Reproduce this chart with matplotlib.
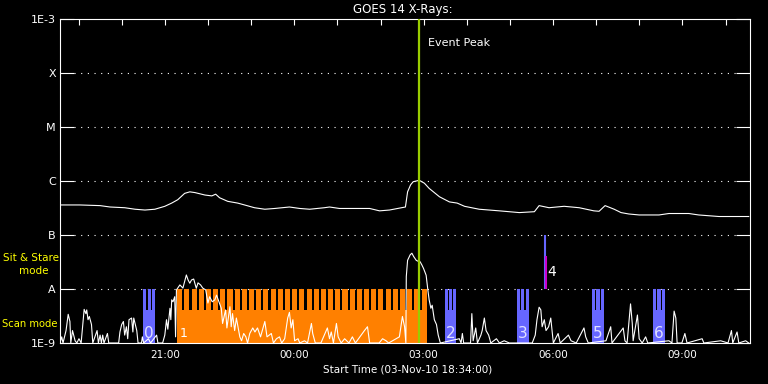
import matplotlib
matplotlib.use("Agg")
import matplotlib.pyplot as plt
import matplotlib.transforms as mtransforms
from matplotlib.ticker import NullLocator
import numpy as np

# time axis: hours after the start time, 03-Nov-10 18:34:00
START_CLOCK = "18:34"
T_SPAN = 16.0

# GOES 14 long channel (1-8 A), W/m^2 (values in units of 1e-7)
long_t = [0.00, 0.46, 0.93, 1.16, 1.50, 1.74, 1.97, 2.20, 2.43, 2.59,
          2.73, 2.89, 3.01, 3.13, 3.36, 3.52, 3.61, 3.70, 3.89, 4.12,
          4.28, 4.51, 4.75, 4.98, 5.32, 5.56, 5.79, 6.13, 6.25, 6.48,
          6.94, 7.18, 7.41, 7.64, 7.92, 8.01, 8.06, 8.13, 8.19, 8.33,
          8.45, 8.56, 8.80, 9.03, 9.21, 9.38, 9.72, 10.19, 10.65, 11.00,
          11.11, 11.34, 11.69, 12.04, 12.38, 12.50, 12.64, 12.85, 13.01, 13.19,
          13.43, 13.89, 14.12, 14.58, 14.81, 15.28, 15.97]
long_flux_e7 = [3.6, 3.6, 3.5, 3.3, 3.2, 3.0, 2.9, 3.0, 3.4, 3.9,
                4.5, 5.9, 6.3, 6.1, 5.5, 5.3, 5.7, 4.9, 4.2, 3.9,
                3.6, 3.2, 3.0, 3.1, 3.3, 3.1, 3.0, 3.2, 3.3, 3.1,
                3.1, 3.1, 2.8, 2.9, 3.2, 3.3, 6.3, 8.5, 9.7, 10.3,
                9.1, 7.3, 5.1, 4.1, 3.9, 3.4, 3.0, 2.8, 2.6, 2.7,
                3.5, 3.2, 3.4, 3.2, 2.8, 2.75, 3.5, 3.0, 2.6, 2.45,
                2.35, 2.35, 2.5, 2.5, 2.35, 2.2, 2.2]

# short channel (0.5-4 A), values in units of 1e-9 W/m^2
short_t = [0.00, 0.04, 0.07, 0.14, 0.19, 0.23, 0.25, 0.29, 0.35, 0.39,
           0.44, 0.49, 0.56, 0.60, 0.62, 0.65, 0.68, 0.73, 0.76, 0.86,
           0.89, 0.93, 0.96, 0.99, 1.02, 1.10, 1.13, 1.36, 1.39, 1.43,
           1.47, 1.50, 1.54, 1.57, 1.60, 1.66, 1.69, 1.71, 1.78, 1.81,
           1.89, 1.91, 1.94, 2.05, 2.10, 2.24, 2.27, 2.38, 2.43, 2.47,
           2.50, 2.55, 2.57, 2.59, 2.62, 2.66, 2.68, 2.70, 2.78, 2.85,
           2.93, 2.97, 3.01, 3.05, 3.10, 3.16, 3.20, 3.26, 3.31, 3.38,
           3.43, 3.47, 3.53, 3.59, 3.63, 3.70, 3.74, 3.77, 3.84, 3.87,
           3.94, 3.97, 4.00, 4.05, 4.09, 4.17, 4.21, 4.26, 4.31, 4.35,
           4.40, 4.47, 4.52, 4.58, 4.65, 4.75, 4.80, 4.90, 4.95, 5.02,
           5.09, 5.14, 5.21, 5.28, 5.32, 5.36, 5.40, 5.44, 5.52, 5.56,
           5.67, 5.74, 5.83, 5.86, 5.92, 6.05, 6.20, 6.25, 6.29, 6.34,
           6.41, 6.45, 6.52, 6.60, 6.70, 6.78, 6.85, 7.06, 7.13, 7.18,
           7.40, 7.48, 7.56, 7.62, 7.87, 7.94, 7.99, 8.02, 8.03, 8.06,
           8.12, 8.16, 8.20, 8.26, 8.29, 8.35, 8.39, 8.43, 8.49, 8.53,
           8.56, 8.60, 8.63, 8.68, 8.73, 8.77, 8.82, 9.26, 9.30, 9.33,
           9.36, 9.52, 9.55, 9.58, 9.64, 9.68, 9.76, 9.79, 9.84, 9.88,
           9.94, 9.99, 10.12, 10.19, 10.30, 10.42, 10.95, 11.02, 11.06, 11.11,
           11.15, 11.18, 11.23, 11.27, 11.33, 11.38, 11.44, 11.55, 11.60, 11.79,
           11.85, 11.97, 12.15, 12.19, 12.25, 12.66, 12.77, 12.80, 13.06, 13.10,
           13.15, 13.23, 13.27, 13.29, 13.39, 13.43, 13.50, 13.58, 13.63, 14.12,
           14.19, 14.24, 14.28, 14.31, 14.42, 14.49, 14.54, 14.89, 14.93, 15.32,
           15.49, 15.57, 15.60, 15.70, 15.74, 15.90, 15.97]
short_flux_e9 = [1.0, 1.3, 1.0, 1.7, 3.4, 2.5, 1.0, 1.7, 1.1, 1.0,
                 1.2, 1.0, 4.2, 3.5, 4.1, 2.7, 3.1, 2.2, 1.0, 1.7,
                 1.0, 1.4, 1.0, 1.4, 1.0, 1.5, 1.0, 1.0, 1.6, 2.2,
                 2.5, 1.4, 2.0, 1.2, 2.7, 2.9, 1.6, 2.9, 1.7, 1.0,
                 1.0, 1.3, 1.0, 1.2, 1.0, 1.4, 1.0, 1.0, 1.4, 2.7,
                 1.8, 4.4, 2.7, 6.3, 5.8, 7.2, 1.3, 9.6, 11.9, 10.4,
                 18.2, 14.7, 12.8, 14.7, 15.3, 10.3, 13.0, 11.9, 10.4, 9.6,
                 5.5, 7.2, 5.8, 6.3, 7.7, 5.4, 4.4, 2.3, 4.1, 1.9,
                 4.7, 2.0, 3.5, 1.7, 2.9, 1.3, 1.1, 1.5, 1.3, 1.0,
                 1.5, 1.9, 1.6, 1.9, 1.3, 2.5, 1.3, 1.5, 1.0, 1.2,
                 1.3, 1.0, 1.2, 2.9, 3.7, 1.9, 2.7, 1.1, 1.2, 1.0,
                 1.1, 1.0, 2.3, 1.5, 1.0, 1.0, 1.9, 1.2, 1.6, 1.0,
                 2.3, 1.3, 1.0, 1.2, 1.0, 1.3, 1.0, 1.7, 2.0, 1.0,
                 1.0, 1.2, 1.1, 1.0, 1.3, 3.1, 2.0, 1.0, 17.0, 34.0,
                 43.0, 46.0, 40.0, 34.0, 33.0, 32.0, 28.0, 24.0, 18.0, 9.6,
                 6.3, 4.4, 5.0, 2.7, 2.2, 1.4, 1.0, 1.2, 1.0, 1.5,
                 1.0, 1.0, 3.5, 1.1, 1.9, 1.0, 1.4, 1.7, 2.9, 1.7,
                 1.4, 1.0, 1.2, 1.0, 1.1, 1.0, 1.0, 1.4, 2.7, 4.6,
                 4.1, 2.0, 2.7, 1.7, 2.0, 2.9, 1.0, 1.5, 1.0, 1.4,
                 1.1, 1.0, 1.9, 1.3, 1.0, 1.1, 2.0, 1.0, 1.9, 1.1,
                 1.0, 5.3, 2.3, 1.1, 3.3, 1.2, 1.0, 1.3, 1.0, 1.1,
                 1.0, 3.9, 2.9, 1.0, 1.0, 1.5, 1.0, 1.2, 1.0, 1.1,
                 1.0, 1.7, 1.0, 1.6, 1.0, 1.1, 1.0]

# observing modes
scan_starts = ["21:17", "21:27", "21:37", "21:47", "21:57", "22:07", "22:17",
               "22:27", "22:37", "22:47", "22:57", "23:07", "23:17", "23:27",
               "23:37", "23:47", "23:57", "00:07", "00:17", "00:27", "00:37",
               "00:47", "00:57", "01:07", "01:17", "01:27", "01:37", "01:47",
               "01:57", "02:07", "02:17", "02:27", "02:37", "02:47", "02:57"]
scan_minutes = 7
blue_starts = ["20:30", "03:29", "05:10", "06:54", "08:19"]
blue_ends = ["20:46", "03:45", "05:26", "07:11", "08:36"]
blue_labels = ["0", "2", "3", "5", "6"]
sit_stare_time = "05:49"
sit_stare_sub_time = "05:50"
sit_stare_sub_top = 4.1e-8
event_peak = "02:53"

y_levels = [1e-9, 1e-8, 1e-7, 1e-6, 1e-5, 1e-4, 1e-3]
y_labels = ["1E-9", "A", "B", "C", "M", "X", "1E-3"]
x_tick_clock = ["21:00", "00:00", "03:00", "06:00", "09:00"]
hour_ticks = ["19:00", "20:00", "21:00", "22:00", "23:00", "00:00", "01:00",
              "02:00", "03:00", "04:00", "05:00", "06:00", "07:00", "08:00",
              "09:00", "10:00"]


def clock_to_hours(s):
    hh, mm = (int(v) for v in s.split(":"))
    sh, sm = (int(v) for v in START_CLOCK.split(":"))
    mins = hh * 60 + mm - (sh * 60 + sm)
    if mins < 0:
        mins += 24 * 60
    return mins / 60.0


BLUE = "#6666ff"
ORANGE = "#ff8000"
GREEN = "#99cc00"
MAGENTA = "#cc00cc"
YELLOW = "#ffff00"
FS = 8

fig = plt.figure(figsize=(7.68, 3.84), dpi=100, facecolor="black")
ax = fig.add_axes([60 / 768, 1 - 343 / 384, 690 / 768, 324 / 384], facecolor="black")
ax.set_yscale("log")
ax.set_ylim(1e-9, 1e-3)
ax.set_xlim(0, T_SPAN)

floor = 1e-9
top = 1e-8
notch = 4.1e-9

# scan mode (orange comb)
scan_t = np.array([clock_to_hours(s) for s in scan_starts])
w = scan_minutes / 60.0
ax.bar(scan_t[0], notch - floor, bottom=floor, width=scan_t[-1] + w - scan_t[0],
       align="edge", color=ORANGE, linewidth=0, zorder=2)
ax.bar(scan_t, top - floor, bottom=floor, width=w, align="edge",
       color=ORANGE, linewidth=0, zorder=2)

# blue blocks
gap = 1.8 / 60
for s, e, lab in zip(blue_starts, blue_ends, blue_labels):
    t0, t1 = clock_to_hours(s), clock_to_hours(e)
    ax.bar(t0, notch - floor, bottom=floor, width=t1 - t0, align="edge",
           color=BLUE, linewidth=0, zorder=2)
    pw = (t1 - t0 - 2 * gap) / 3
    for k in range(3):
        ax.bar(t0 + k * (pw + gap), top - floor, bottom=floor, width=pw,
               align="edge", color=BLUE, linewidth=0, zorder=2)

# sit & stare
t4 = clock_to_hours(sit_stare_time)
t4b = clock_to_hours(sit_stare_sub_time)
ax.vlines(t4, 1e-8, 1e-7, color=BLUE, lw=1.5, zorder=2)
ax.vlines(t4b, 1e-8, sit_stare_sub_top, color=MAGENTA, lw=1.5, zorder=2)

# dotted class levels
for lvl in y_levels[1:-1]:
    ax.axhline(lvl, xmin=0.021, xmax=0.981, color="white", lw=0.8,
               ls=(0, (1, 5)), zorder=1)

# flux curves
ax.plot(long_t, np.array(long_flux_e7) * 1e-7, color="white", lw=0.8, zorder=3)
ax.plot(short_t, np.array(short_flux_e9) * 1e-9, color="white", lw=0.8, zorder=3)

# event peak
tp = clock_to_hours(event_peak)
ax.axvline(tp, color=GREEN, lw=1.6, zorder=4)
ax.annotate("Event Peak", xy=(tp, 0.926), xycoords=("data", "axes fraction"),
            xytext=(6.5, 0), textcoords="offset points", color="white",
            fontsize=FS, va="center", ha="left")

# mode labels
trans = mtransforms.blended_transform_factory(ax.transData, ax.transAxes)
for s, e, lab in zip(blue_starts, blue_ends, blue_labels):
    tc = (clock_to_hours(s) + clock_to_hours(e)) / 2
    ax.text(tc, 0.03, lab, transform=trans, color="#e0e0ff", fontsize=11,
            ha="center", va="center", zorder=5)
ax.text(scan_t[0] + 0.06, 0.03, "1", transform=trans, color="white", fontsize=9,
        ha="left", va="center", zorder=5)
ax.text(t4 + 0.06, 2.1e-8, "4", color="white", fontsize=10,
        ha="left", va="center", zorder=5)

# axes styling
ax.set_yticks(y_levels)
ax.set_yticklabels(y_labels)
ax.yaxis.set_minor_locator(NullLocator())
ax.tick_params(axis="y", which="major", direction="in", length=10, width=0.8,
               color="white", labelcolor="white", labelsize=FS, right=True, pad=3)

ax.set_xticks([clock_to_hours(c) for c in x_tick_clock])
ax.set_xticklabels(x_tick_clock)
ax.set_xticks([clock_to_hours(c) for c in hour_ticks], minor=True)
ax.tick_params(axis="x", which="both", direction="in", length=4.5, width=0.8,
               color="white", labelcolor="white", labelsize=7.5,
               top=True, bottom=False, pad=5)

for sp in ax.spines.values():
    sp.set_color("white")
    sp.set_linewidth(0.8)

fig.text(403 / 768, 1 - 9 / 384, "GOES 14 X-Rays:", color="white", fontsize=8.5,
         ha="center", va="center")
fig.text(408 / 768, 1 - 369 / 384, "Start Time (03-Nov-10 18:34:00)", color="white",
         fontsize=7.5, ha="center", va="center")
fig.text(3 / 768, 1 - 258 / 384, "Sit & Stare", color=YELLOW, fontsize=7.5,
         ha="left", va="center")
fig.text(34 / 768, 1 - 271 / 384, "mode", color=YELLOW, fontsize=7.5,
         ha="center", va="center")
fig.text(2 / 768, 1 - 324 / 384, "Scan mode", color=YELLOW, fontsize=7.2,
         ha="left", va="center")

fig.savefig("out.png", dpi=100, facecolor="black")
